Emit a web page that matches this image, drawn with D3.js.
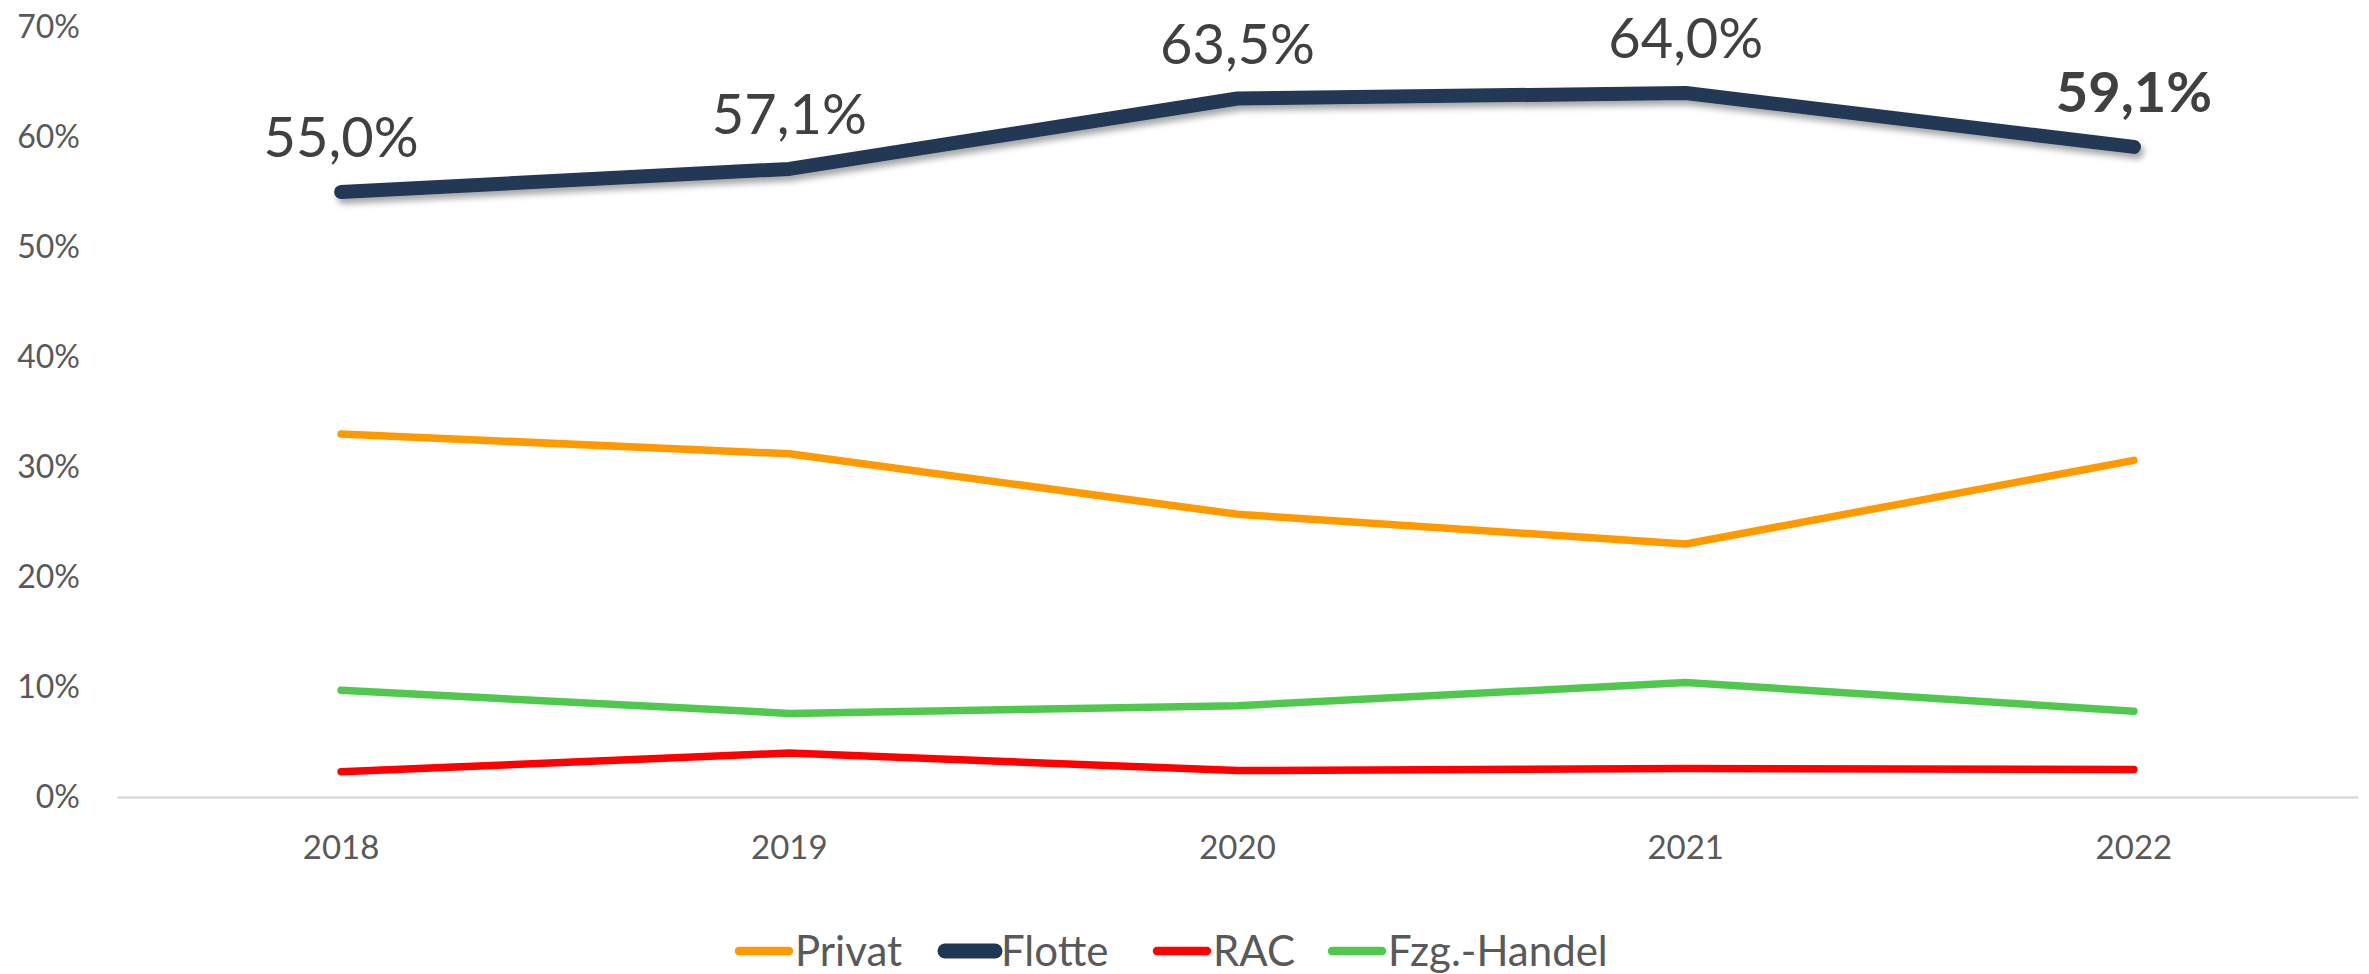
<!DOCTYPE html>
<html lang="de">
<head>
  <meta charset="utf-8">
  <title>Anteile nach Segment 2018-2022</title>
  <script src="https://d3js.org/d3.v7.min.js"></script>
  <style>
    body { margin: 0; background: #fff; }
    text { font-family: Lato, "Noto Sans", sans-serif; }
  </style>
</head>
<body>
  <div id="my_dataviz"></div>

  <script>
    // chart size
    const width = 2369,
      height = 974;

    // data (shares, in %)
    const years = ["2018", "2019", "2020", "2021", "2022"];
    const seriesNames = ["Privat", "Flotte", "RAC", "Fzg.-Handel"];
    const privat = [33.0, 31.2, 25.7, 23.0, 30.6];
    const flotte = [55.0, 57.1, 63.5, 64.0, 59.1];
    const rac = [2.3, 4.0, 2.4, 2.6, 2.5];
    const handel = [9.7, 7.6, 8.3, 10.4, 7.8];
    const yTicks = [0, 10, 20, 30, 40, 50, 60, 70];

    const series = [
      { name: seriesNames[0], values: privat, color: "#FF9900", w: 7.5 },
      { name: seriesNames[1], values: flotte, color: "#203754", w: 14 },
      { name: seriesNames[2], values: rac, color: "#FF0000", w: 7.5 },
      { name: seriesNames[3], values: handel, color: "#50C84E", w: 7.5 }
    ];

    const svg = d3.select("#my_dataviz")
      .append("svg")
      .attr("width", width)
      .attr("height", height);

    // shadow for the fleet line
    const defs = svg.append("defs");
    const f = defs.append("filter").attr("id", "shadow")
      .attr("x", "-5%").attr("y", "-50%").attr("width", "110%").attr("height", "200%");
    f.append("feDropShadow")
      .attr("dx", 3).attr("dy", 5).attr("stdDeviation", 3)
      .attr("flood-color", "#000").attr("flood-opacity", 0.35);

    const x = d3.scaleBand()
      .domain(years)
      .range([117, 2358]);

    const y = d3.scaleLinear()
      .domain([0, 70])
      .range([797, 27]);

    // y axis (labels only)
    const yAxis = svg.append("g")
      .attr("transform", "translate(117,0)")
      .call(d3.axisLeft(y).tickValues(yTicks).tickSize(0).tickPadding(37)
        .tickFormat(d => d + "%"));
    yAxis.select(".domain").remove();
    yAxis.selectAll("text")
      .attr("font-size", 32)
      .attr("fill", "#595959")
      .style("font-family", "Lato, sans-serif");

    // x axis
    const xAxis = svg.append("g")
      .attr("transform", "translate(0,797)")
      .call(d3.axisBottom(x).tickSize(0).tickSizeOuter(0).tickPadding(39));
    xAxis.select(".domain")
      .attr("stroke", "#D9D9D9")
      .attr("stroke-width", 2.5);
    xAxis.selectAll("text")
      .attr("font-size", 33)
      .attr("fill", "#595959")
      .style("font-family", "Lato, sans-serif");

    const line = d3.line()
      .x((d, i) => x(years[i]) + x.bandwidth() / 2)
      .y(d => y(d));

    // lines
    svg.selectAll(".series")
      .data(series)
      .join("path")
      .attr("class", "series")
      .attr("d", d => line(d.values))
      .attr("fill", "none")
      .attr("stroke", d => d.color)
      .attr("stroke-width", d => d.w)
      .attr("stroke-linecap", "round")
      .attr("stroke-linejoin", "round")
      .attr("filter", d => d.name === "Flotte" ? "url(#shadow)" : null);

    // labels on the fleet line
    const fmt = v => v.toFixed(1).replace(".", ",") + "%";
    svg.selectAll(".lbl")
      .data(flotte)
      .join("text")
      .attr("class", "lbl")
      .attr("x", (d, i) => x(years[i]) + x.bandwidth() / 2)
      .attr("y", d => y(d) - 35)
      .attr("text-anchor", "middle")
      .attr("font-size", 56)
      .attr("font-weight", (d, i) => i === flotte.length - 1 ? "bold" : "normal")
      .attr("fill", "#404040")
      .text(d => fmt(d));

    // legend
    const legendX = [735, 941, 1153, 1328];
    const legend = svg.append("g").attr("class", "legend");
    const item = legend.selectAll("g")
      .data(series)
      .join("g")
      .attr("transform", (d, i) => `translate(${legendX[i]},951)`);
    item.append("line")
      .attr("x1", 4).attr("x2", 54)
      .attr("stroke", d => d.color)
      .attr("stroke-width", d => d.w + 1)
      .attr("stroke-linecap", "round");
    item.append("text")
      .attr("x", 60)
      .attr("dy", "0.35em")
      .attr("font-size", 42)
      .attr("fill", "#595959")
      .text(d => d.name);
  </script>
</body>
</html>
